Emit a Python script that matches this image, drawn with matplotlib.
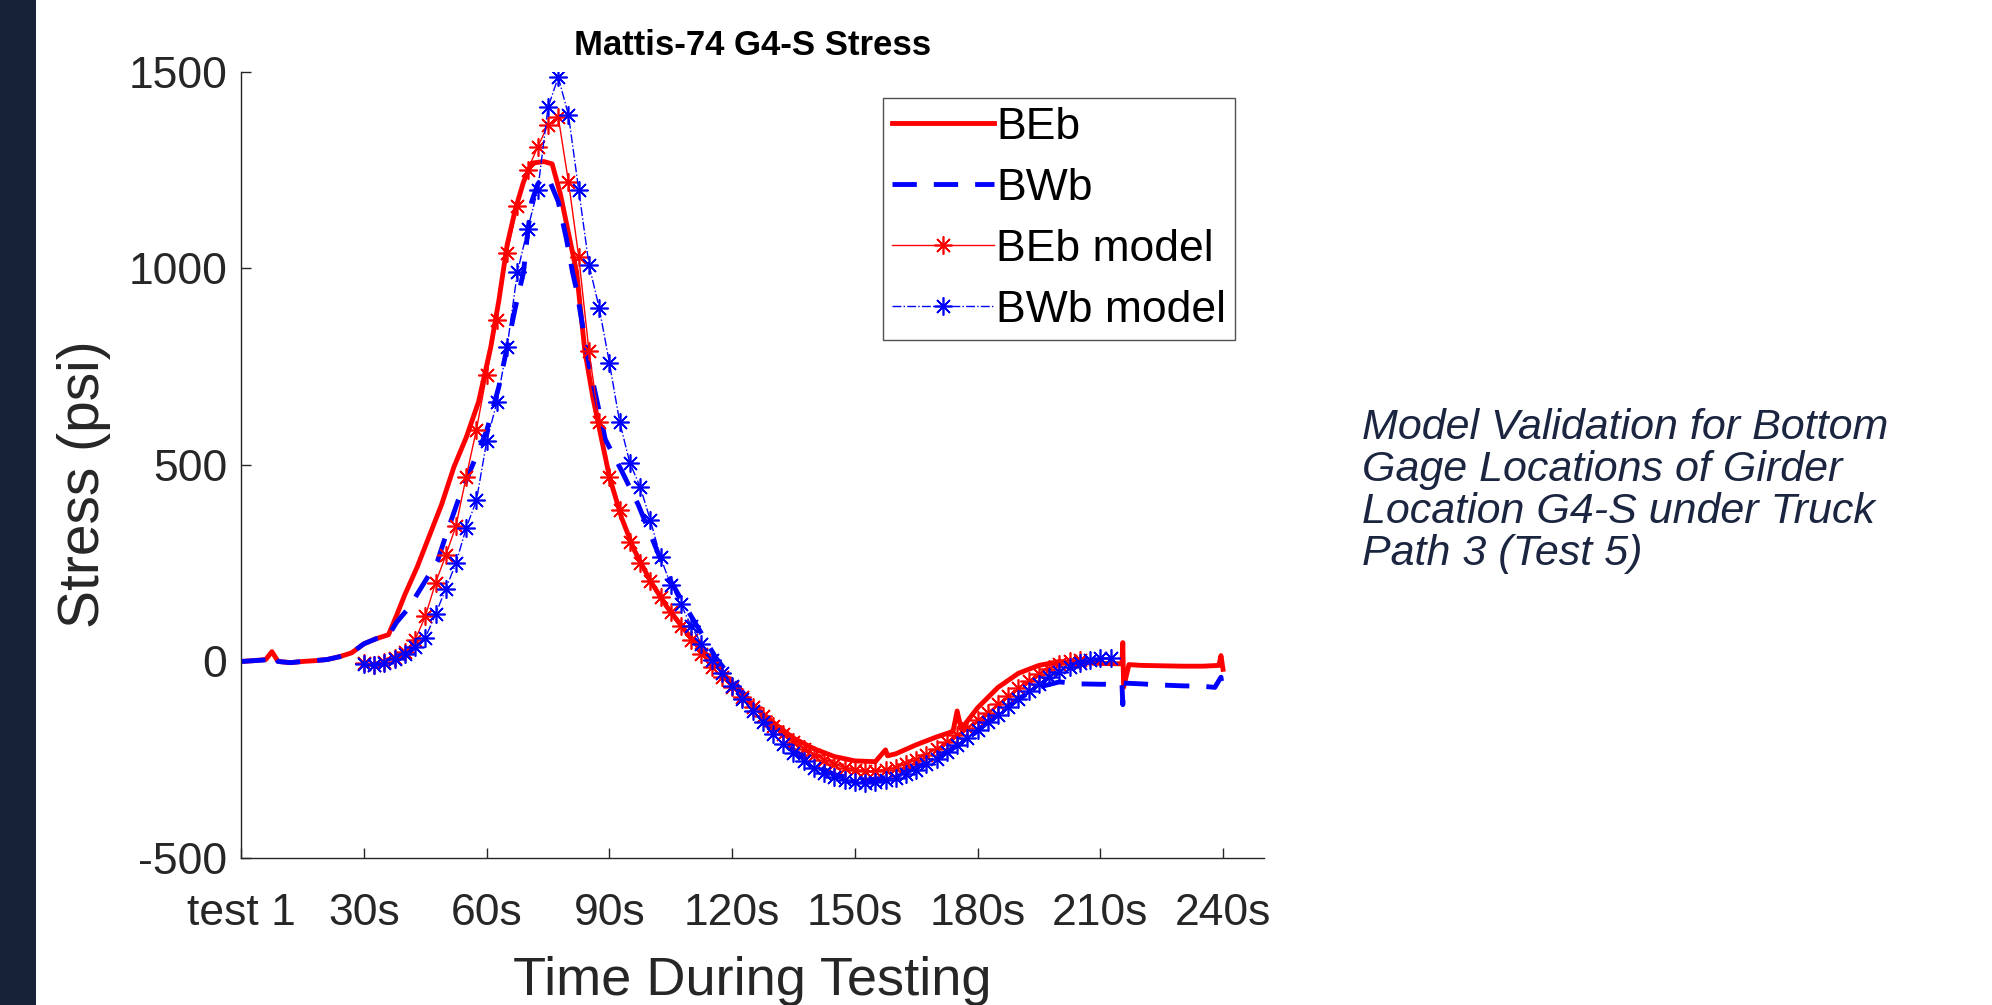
import matplotlib
matplotlib.use("Agg")
import matplotlib.pyplot as plt
from matplotlib.patches import Rectangle

# measured stress, thick lines
beb_t = [0, 3, 6, 7.5, 9, 12, 15, 18, 21, 24, 27, 30, 33, 36, 38, 40, 43, 46, 49, 52,
         55, 58, 61, 63, 65, 67, 69, 71, 74, 76, 78, 80, 82, 84, 86, 88, 90, 93, 96, 100,
         104, 108, 112, 116, 120, 125, 130, 135, 140, 145, 150, 155, 157.5, 158, 160,
         165, 170, 174, 175, 176, 180, 185, 190, 195, 200, 205, 210, 215.3, 215.5, 215.7,
         217, 220, 225, 230, 235, 239, 239.5, 240]
beb_v = [0, 2, 5, 25, 0, -3, 0, 2, 5, 12, 22, 45, 58, 68, 118, 170, 240, 320, 400, 495,
         570, 660, 800, 920, 1060, 1150, 1220, 1268, 1272, 1266, 1190, 1090, 990, 790, 670, 570, 470, 365, 285, 205,
         140, 85, 35, -5, -58, -110, -155, -195, -222, -242, -253, -255, -225, -240, -235,
         -212, -192, -178, -126, -172, -118, -66, -30, -10, 0, -3, -5, -6, 48, -66,
         -8, -10, -11, -12, -12, -10, 15, -20]

bwb_t = [0, 3, 6, 7.5, 9, 12, 15, 18, 21, 24, 27, 30, 33, 36, 38, 41, 45, 48, 50, 53,
         56, 60, 63, 65, 67, 69, 70, 71, 72.5, 74, 75.5, 77.5, 79.5, 81, 82, 85, 89, 93, 97, 100,
         104, 108, 112, 116, 120, 125, 130, 135, 140, 145, 150, 153, 158, 165, 170,
         177, 183, 190, 195, 200, 205, 210, 215.3, 215.5, 215.7, 220, 225, 230, 235, 238,
         239.5, 240]
bwb_v = [0, 2, 4, 20, 0, -3, 0, 2, 5, 12, 22, 45, 58, 66, 100, 137, 205, 256, 320, 409,
         486, 587, 700, 800, 900, 990, 1090, 1170, 1215, 1235, 1220, 1170, 1075, 990, 944, 757, 565, 485, 400, 324,
         222, 150, 80, 10, -45, -110, -175, -225, -262, -288, -298, -302, -295, -270, -245,
         -202, -150, -95, -65, -52, -57, -58, -58, -110, -55, -57, -60, -62, -63, -66,
         -40, -75]

# model stress, thin lines with asterisks
beb_model_t = [30, 32.5, 35, 37.5, 40, 42.5, 45, 47.5, 50, 52.5, 55, 57.5, 60, 62.5, 65, 67.5,
               70, 72.5, 75, 77.5, 80, 82.5, 85, 87.5, 90, 92.5, 95, 97.5, 100, 102.5, 105, 107.5,
               110, 112.5, 115, 117.5, 120, 122.5, 125, 127.5, 130, 132.5, 135, 137.5, 140, 142.5,
               145, 147.5, 150, 152.5, 155, 157.5, 160, 162.5, 165, 167.5, 170, 172.5, 175, 177.5,
               180, 182.5, 185, 187.5, 190, 192.5, 195, 197.5, 200, 202.5, 205]
beb_model_v = [-5, -8, -2, 10, 25, 55, 115, 200, 270, 345, 470, 590, 730, 870, 1040, 1160,
               1250, 1310, 1365, 1385, 1220, 1030, 790, 610, 470, 385, 305, 250, 205, 165, 125, 90,
               55, 20, -15, -40, -65, -90, -115, -140, -165, -185, -205, -222, -238, -250,
               -262, -270, -275, -278, -278, -275, -270, -262, -250, -238, -222, -205, -188, -170,
               -150, -130, -108, -88, -68, -50, -33, -18, -7, 0, 3]

bwb_model_t = [30, 32.5, 35, 37.5, 40, 42.5, 45, 47.5, 50, 52.5, 55, 57.5, 60, 62.5, 65, 67.5,
               70, 72.5, 75, 77.5, 80, 82.5, 85, 87.5, 90, 92.5, 95, 97.5, 100, 102.5, 105, 107.5,
               110, 112.5, 115, 117.5, 120, 122.5, 125, 127.5, 130, 132.5, 135, 137.5, 140, 142.5,
               145, 147.5, 150, 152.5, 155, 157.5, 160, 162.5, 165, 167.5, 170, 172.5, 175, 177.5,
               180, 182.5, 185, 187.5, 190, 192.5, 195, 197.5, 200, 202.5, 205, 207.5, 210, 212.5]
bwb_model_v = [-7, -10, -3, 7, 20, 38, 60, 120, 185, 250, 340, 410, 560, 660, 800, 990,
               1100, 1200, 1410, 1487, 1390, 1200, 1010, 900, 760, 610, 505, 445, 360, 265, 195, 145,
               90, 45, 5, -30, -62, -95, -125, -155, -185, -210, -232, -252, -270, -285,
               -295, -302, -306, -308, -306, -302, -296, -287, -275, -262, -247, -230, -212, -195,
               -175, -155, -135, -115, -95, -75, -57, -40, -27, -15, -5, 3, 8, 8]

xticks = [0, 30, 60, 90, 120, 150, 180, 210, 240]
xtick_labels = ['test 1', '30s', '60s', '90s', '120s', '150s', '180s', '210s', '240s']
yticks = [-500, 0, 500, 1000, 1500]

side_lines = ['Model Validation for Bottom', 'Gage Locations of Girder',
              'Location G4-S under Truck', 'Path 3 (Test 5)']

plt.rcParams['font.family'] = ['Liberation Sans', 'DejaVu Sans']
plt.rcParams['axes.unicode_minus'] = False

fig = plt.figure(figsize=(19.92, 10.05), dpi=100)
fig.patches.append(Rectangle((0, 0), 36 / 1992, 1, transform=fig.transFigure,
                             facecolor='#172238', edgecolor='none'))

ax = fig.add_axes([0.1211, 0.1463, 0.5134, 0.7821])

star = (8, 2, 0)
ax.plot(beb_t, beb_v, color='red', lw=3.5, label='BEb')
ax.plot(bwb_t, bwb_v, color='blue', lw=3.5, ls=(0, (5, 3.5)), label='BWb')
ax.plot(beb_model_t, beb_model_v, color='red', lw=1.0, marker=star, ms=13, mew=1.2,
        label='BEb model')
ax.plot(bwb_model_t, bwb_model_v, color='blue', lw=1.0, ls='-.', marker=star, ms=13,
        mew=1.2, label='BWb model')

ax.set_xlim(0, 250)
ax.set_ylim(-500, 1500)
ax.set_xticks(xticks)
ax.set_xticklabels(xtick_labels)
ax.set_yticks(yticks)
ax.spines['top'].set_visible(False)
ax.spines['right'].set_visible(False)
for s in ['left', 'bottom']:
    ax.spines[s].set_color('#262626')
    ax.spines[s].set_linewidth(1.0)
ax.tick_params(axis='both', direction='in', length=7, width=1, colors='#262626',
               labelsize=32, labelcolor='#262626')
ax.tick_params(axis='x', pad=25)
ax.tick_params(axis='y', pad=10)

ax.set_title('Mattis-74 G4-S Stress', fontsize=25, fontweight='bold', pad=12)
ax.set_xlabel('Time During Testing', fontsize=39, color='#262626', va='center')
ax.set_ylabel('Stress (psi)', fontsize=41, color='#262626', va='center')
ax.xaxis.set_label_coords(0.5, -0.156)
ax.yaxis.set_label_coords(-0.154, 0.476)

leg = ax.legend(loc='upper right', bbox_to_anchor=(0.972, 0.967), fontsize=32,
                frameon=True, fancybox=False, borderaxespad=0, borderpad=0.2,
                handlelength=2.3, handletextpad=0.05, labelspacing=0.45)
leg.get_frame().set_edgecolor('#262626')
leg.get_frame().set_linewidth(1.0)

for i, line in enumerate(side_lines):
    fig.text(1362 / 1992, 1 - (439 + 42 * i) / 1005, line, fontsize=31,
             style='italic', color='#1b2540', va='baseline')

fig.savefig('out.png', dpi=100)
